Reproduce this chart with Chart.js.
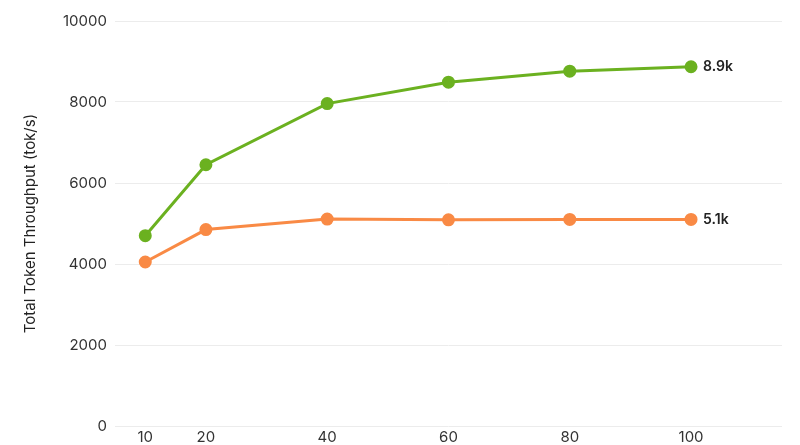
<!DOCTYPE html>
<html>
<head>
<meta charset="utf-8">
<script src="https://cdn.jsdelivr.net/npm/chart.js@4"></script>
<style>
  html, body { margin: 0; padding: 0; background: #fff; overflow: hidden; }
  #wrap { width: 800px; height: 448px; }
</style>
</head>
<body>
<div id="wrap"><canvas id="grafica"></canvas></div>
<script>
// data
const concurrency = [10, 20, 40, 60, 80, 100];
const greenSeries = [4700, 6450, 7960, 8490, 8760, 8870];
const orangeSeries = [4050, 4850, 5110, 5090, 5100, 5100];
const xTicks = [10, 20, 40, 60, 80, 100];
const yTicks = [0, 2000, 4000, 6000, 8000, 10000];

const green = '#6bb120';
const orange = '#f98a45';

// label for the last point of each line
const endLabels = {
  id: 'endLabels',
  afterDatasetsDraw(chart) {
    const ctx = chart.ctx;
    ctx.save();
    ctx.font = '600 14px Inter, "Noto Sans", sans-serif';
    ctx.fillStyle = '#222';
    ctx.textBaseline = 'middle';
    chart.data.datasets.forEach((ds, i) => {
      const pts = chart.getDatasetMeta(i).data;
      const p = pts[pts.length - 1];
      const v = ds.data[ds.data.length - 1].y;
      ctx.fillText((v / 1000).toFixed(1) + 'k', p.x + 12, p.y);
    });
    ctx.restore();
  }
};

const toXY = arr => arr.map((v, i) => ({ x: concurrency[i], y: v }));

let micanvas = document.getElementById('grafica').getContext('2d');
var chart = new Chart(micanvas, {
  type: 'line',
  data: {
    datasets: [
      {
        label: 'A',
        data: toXY(greenSeries),
        borderColor: green,
        backgroundColor: green,
        borderWidth: 3,
        pointRadius: 5,
        pointHoverRadius: 5,
        tension: 0
      },
      {
        label: 'B',
        data: toXY(orangeSeries),
        borderColor: orange,
        backgroundColor: orange,
        borderWidth: 3,
        pointRadius: 5,
        pointHoverRadius: 5,
        tension: 0
      }
    ]
  },
  options: {
    responsive: true,
    maintainAspectRatio: false,
    animation: false,
    layout: { padding: { top: 21, right: 18, left: 21, bottom: 0 } },
    plugins: {
      legend: { display: false },
      tooltip: { enabled: false }
    },
    scales: {
      x: {
        type: 'linear',
        min: 5,
        max: 115,
        afterBuildTicks: ax => { ax.ticks = xTicks.map(v => ({ value: v })); },
        grid: { display: false, drawTicks: false },
        border: { display: false },
        ticks: {
          color: '#333',
          font: { family: 'Inter', size: 15 },
          padding: 2,
          autoSkip: false,
          maxRotation: 0,
          callback: v => String(v)
        }
      },
      y: {
        min: 0,
        max: 10000,
        afterBuildTicks: ax => { ax.ticks = yTicks.map(v => ({ value: v })); },
        grid: { color: '#ececec', drawTicks: false, lineWidth: 1 },
        border: { display: false },
        ticks: {
          color: '#333',
          font: { family: 'Inter', size: 15 },
          padding: 8,
          callback: v => String(v)
        },
        title: {
          display: true,
          text: 'Total Token Throughput (tok/s)',
          color: '#222',
          font: { family: 'Inter', size: 15 },
          padding: { top: 0, bottom: 16 }
        }
      }
    }
  },
  plugins: [endLabels]
});
</script>
</body>
</html>
